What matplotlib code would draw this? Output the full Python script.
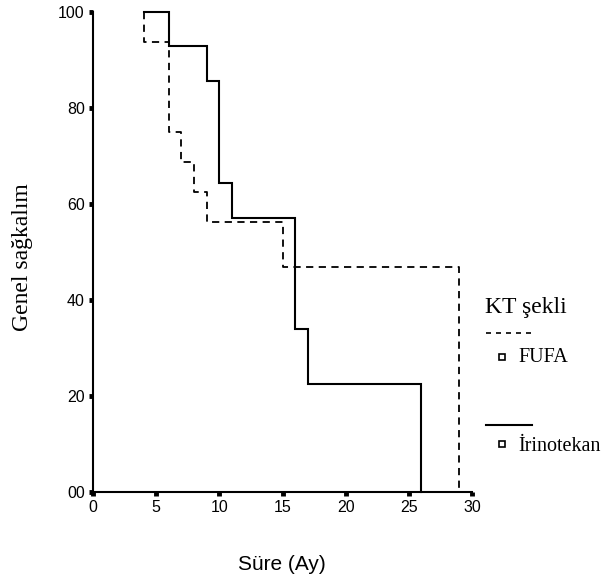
import matplotlib.pyplot as plt
from matplotlib.lines import Line2D

# Kaplan-Meier step data (time in months, survival %)
irino_t = [4, 6, 9, 10, 11, 16, 17, 26]
irino_s = [100, 92.9, 85.7, 64.3, 57.1, 33.9, 22.5, 0]

fufa_t = [4, 6, 7, 8, 9, 15, 29]
fufa_s = [100, 93.75, 75, 68.75, 62.5, 56.25, 46.9, 0]

xticks = [0, 5, 10, 15, 20, 25, 30]
yticks = [0, 20, 40, 60, 80, 100]
ytick_labels = ['00', '20', '40', '60', '80', '100']

fig = plt.figure(figsize=(6.06, 5.84), dpi=100)
ax = fig.add_axes([0.1535, 0.1575, 0.6254, 0.822])

# build step coordinates: value holds until next time, then drops
def steps(t, s):
    xs, ys = [t[0]], [s[0]]
    for i, ti in enumerate(t):
        xs += [ti, ti]
        ys += [ys[-1], s[i + 1]]
        if i + 1 < len(t):
            xs.append(t[i + 1])
            ys.append(s[i + 1])
    return xs, ys

# irinotekan: starts at 100 at t=4 and holds to t=6
ix, iy = steps(irino_t[1:], irino_s)
ix = [irino_t[0]] + ix
iy = [irino_s[0]] + iy
ax.plot(ix, iy, color='black', lw=1.5, solid_joinstyle='miter', clip_on=False)

fx, fy = steps(fufa_t, fufa_s)
ax.plot(fx, fy, color='black', lw=1.3, ls=(0, (4, 3)), clip_on=False)

ax.set_xlim(0, 30)
ax.set_ylim(0, 100)
ax.set_xticks(xticks)
ax.set_yticks(yticks)
ax.set_yticklabels(ytick_labels)
for s in ['top', 'right']:
    ax.spines[s].set_visible(False)
for s in ['left', 'bottom']:
    ax.spines[s].set_linewidth(1.5)
ax.tick_params(length=3, width=3.5, labelsize=11.5, pad=3)
for lab in ax.get_xticklabels() + ax.get_yticklabels():
    lab.set_family('Liberation Sans')

fig.text(0.037, 0.56, 'Genel sağkalım', rotation=90, ha='center', va='center',
         family='Liberation Serif', fontsize=17)
fig.text(0.465, 0.033, 'Süre (Ay)', ha='center', va='center',
         family='Liberation Sans', fontsize=15)

# legend
fig.text(0.800, 0.473, 'KT şekli', family='Liberation Serif', fontsize=17,
         ha='left', va='center')
fig.add_artist(Line2D([0.802, 0.878], [0.430, 0.430], color='black', lw=1.2,
                      ls=(0, (3, 3)), transform=fig.transFigure))
fig.add_artist(Line2D([0.828], [0.389], marker='s', ms=5, mfc='white', mec='black',
                      mew=1.2, transform=fig.transFigure))
fig.text(0.856, 0.387, 'FUFA', family='Liberation Serif', fontsize=14.5,
         ha='left', va='center')
fig.add_artist(Line2D([0.802, 0.878], [0.272, 0.272], color='black', lw=1.5,
                      transform=fig.transFigure))
fig.add_artist(Line2D([0.828], [0.239], marker='s', ms=5, mfc='white', mec='black',
                      mew=1.2, transform=fig.transFigure))
fig.text(0.856, 0.236, 'İrinotekan', family='Liberation Serif', fontsize=14.5,
         ha='left', va='center')

fig.savefig('out.png', dpi=100)
